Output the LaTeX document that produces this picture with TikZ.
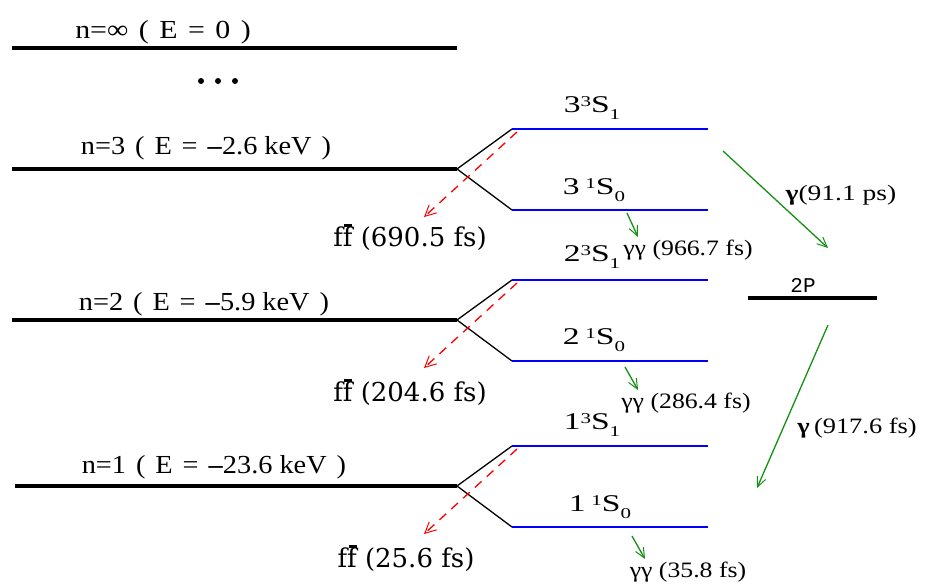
\documentclass[tikz,border=0pt]{standalone}
\usepackage{fontspec}
\usepackage{graphicx}
\setmainfont{Liberation Serif}
\newfontfamily\ffont{DejaVu Serif}
\newfontfamily\mfont{Liberation Mono}
\usetikzlibrary{arrows.meta}
\definecolor{gr}{RGB}{20,145,20}
\newcommand{\gsp}{\hspace{0.35em}}
\newcommand{\lvx}[1]{\scalebox{1.09}[1]{#1}}
\newcommand{\stx}[1]{\scalebox{1.4}[1]{#1}}
\newcommand{\ggx}[1]{\scalebox{1.17}[1]{#1}}
\newcommand{\stlab}[4]{#1#2\raisebox{0.25em}{\fontsize{15}{15}\selectfont #3}S\raisebox{-0.3em}{\fontsize{15}{15}\selectfont #4}}
\newcommand{\ffbar}{f\rlap{\kern0.06em\rule[0.74em]{0.3em}{0.09em}}f}
\begin{document}
\begin{tikzpicture}[x=1pt,y=-1pt,
  nline/.style={line width=4pt},
  sline/.style={blue,line width=2pt},
  splitl/.style={line width=1.3pt},
  ffarr/.style={red,line width=1.3pt,dash pattern=on 9pt off 7pt,-{Straight Barb[length=11pt,width=11pt,line width=1pt]}},
  garr/.style={gr,line width=1.3pt,-{Straight Barb[length=10pt,width=9pt,line width=1pt]}},
  lvltxt/.style={font=\fontsize{26}{28}\selectfont,inner sep=0pt,anchor=base},
  sttxt/.style={font=\fontsize{24}{26}\selectfont,inner sep=0pt,anchor=base},
  fftxt/.style={font=\ffont\fontsize{26}{28}\selectfont,inner sep=0pt,anchor=base},
  ggtxt/.style={font=\fontsize{22}{24}\selectfont,inner sep=0pt,anchor=base},
  dotn/.style={circle,fill,inner sep=0pt,minimum size=6pt}]
\useasboundingbox (0,0) rectangle (930,584);
% n = infinity
\coordinate (infL) at (12,48);
\coordinate (infR) at (457,48);
\draw[nline] (infL) -- (infR);
\node[lvltxt] (linf) at (163,38.5) {\scalebox{1.15}[1]{n=∞\gsp(\gsp E\gsp=\gsp 0\gsp)}};
\node[dotn] (d1) at (201,81) {};
\node[dotn] (d2) at (218,81) {};
\node[dotn] (d3) at (235,81) {};
% levels
\foreach \k/\Y/\xl in {3/169/12,2/320/12,1/486/15}{
  \coordinate (nL\k) at (\xl,\Y);
  \coordinate (nR\k) at (457,\Y);
  \coordinate (tL\k) at (512,\Y-40);
  \coordinate (tR\k) at (708,\Y-40);
  \coordinate (bL\k) at (512,\Y+41);
  \coordinate (bR\k) at (708,\Y+41);
  \coordinate (fs\k) at (517,\Y-37);
  \coordinate (fe\k) at (424,\Y+48);
  \draw[nline] (nL\k) -- (nR\k);
  \draw[splitl] (nR\k) -- (tL\k);
  \draw[splitl] (nR\k) -- (bL\k);
  \draw[sline] (tL\k) -- (tR\k);
  \draw[sline] (bL\k) -- (bR\k);
  \draw[ffarr] (fs\k) -- (fe\k);
}
\node[lvltxt] (l3) at (206,154) {\lvx{n=3\gsp(\gsp E\gsp=\gsp\textbf{–}2.6 keV\gsp)}};
\node[lvltxt] (l2) at (204,310) {\lvx{n=2\gsp(\gsp E\gsp=\gsp\textbf{–}5.9 keV\gsp)}};
\node[lvltxt] (l1) at (214,473) {\lvx{n=1\gsp(\gsp E\gsp=\gsp\textbf{–}23.6 keV\gsp)}};
% state labels
\node[sttxt] (s31) at (592,112) {\stx{\stlab{3}{}{3}{1}}};
\node[sttxt] (s30) at (594,194) {\stx{\stlab{3}{\,}{1}{0}}};
\node[sttxt] (s21) at (592,261) {\stx{\stlab{2}{}{3}{1}}};
\node[sttxt] (s20) at (594,344) {\stx{\stlab{2}{\,}{1}{0}}};
\node[sttxt] (s11) at (592,429) {\stx{\stlab{1}{}{3}{1}}};
\node[sttxt] (s10) at (600,511) {\stx{\stlab{1}{\,}{1}{0}}};
% ff labels
\node[fftxt] (f3) at (410,246) {\ffbar{} (690.5 fs)};
\node[fftxt] (f2) at (410,401) {\ffbar{} (204.6 fs)};
\node[fftxt] (f1) at (406,567) {\ffbar{} (25.6 fs)};
% gamma gamma
\coordinate (g3s) at (627,213); \coordinate (g3e) at (638,237);
\coordinate (g2s) at (625,367); \coordinate (g2e) at (638,390);
\coordinate (g1s) at (632,536); \coordinate (g1e) at (645,559);
\draw[garr] (g3s) -- (g3e);
\draw[garr] (g2s) -- (g2e);
\draw[garr] (g1s) -- (g1e);
\node[ggtxt] (gg3) at (688,255) {\ggx{γγ (966.7 fs)}};
\node[ggtxt] (gg2) at (686,408) {\ggx{γγ (286.4 fs)}};
\node[ggtxt] (gg1) at (688,577) {\ggx{γγ (35.8 fs)}};
% 2P
\coordinate (pL) at (748,298);
\coordinate (pR) at (877,298);
\draw[nline] (pL) -- (pR);
\node[font=\mfont\fontsize{21}{22}\selectfont,inner sep=0pt,anchor=base] (p2) at (803,292) {2P};
\coordinate (a1s) at (723,151); \coordinate (a1e) at (828,248);
\coordinate (a2s) at (828,325); \coordinate (a2e) at (757,488);
\draw[garr] (a1s) -- (a1e);
\draw[garr] (a2s) -- (a2e);
\node[ggtxt] (ga1) at (841,200) {\scalebox{1.25}[1]{\textbf{γ}(91.1 ps)}};
\node[ggtxt] (ga2) at (857,433) {\scalebox{1.2}[1]{\textbf{γ}\,(917.6 fs)}};
\end{tikzpicture}
\end{document}
